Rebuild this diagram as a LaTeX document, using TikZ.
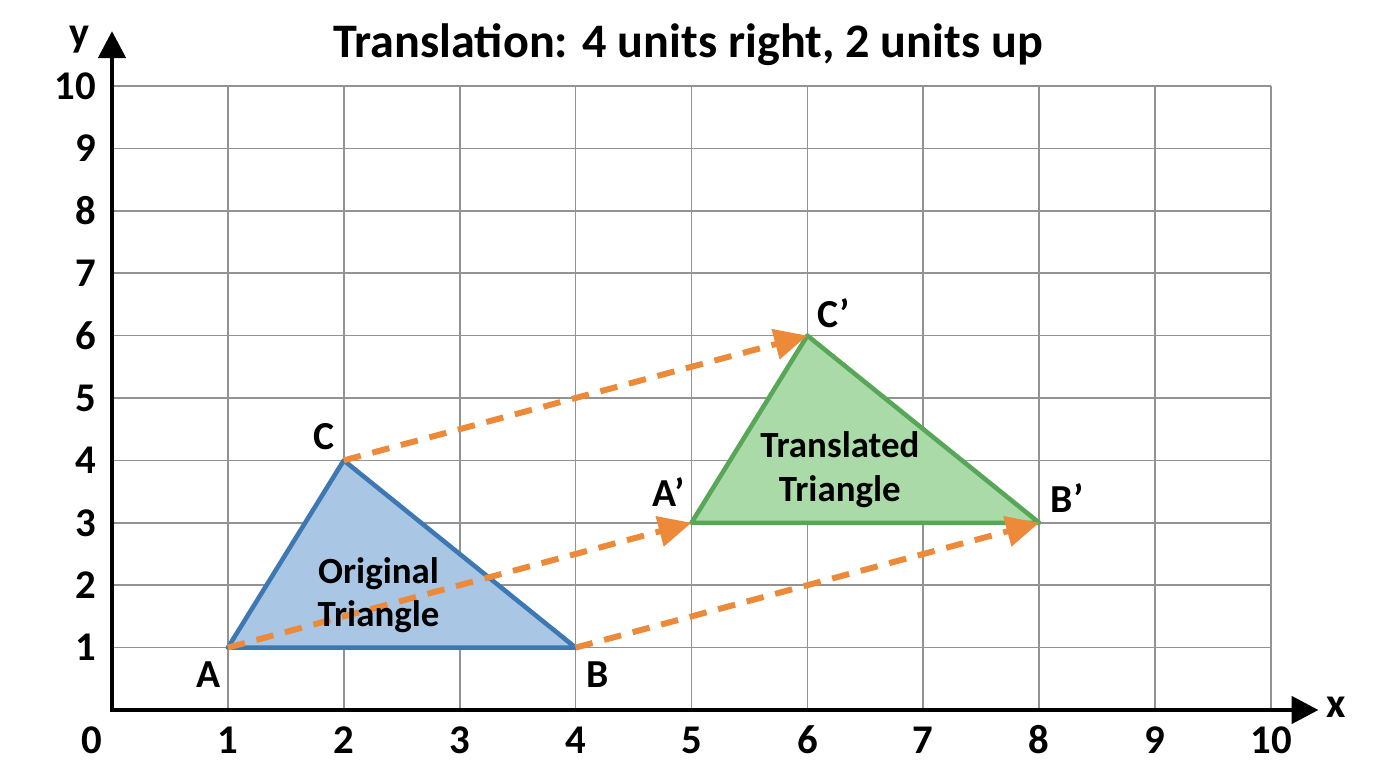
\documentclass[tikz,border=0pt]{standalone}
\usepackage{fontspec}
\setmainfont{Carlito}
\usepackage{tikz}
\usetikzlibrary{arrows.meta}
\usetikzlibrary{positioning}
\definecolor{origline}{HTML}{3E78B2}
\definecolor{origfill}{HTML}{A9C6E4}
\definecolor{newline}{HTML}{58A658}
\definecolor{newfill}{HTML}{AADAA8}
\definecolor{moveorange}{HTML}{EC8A3A}
\tikzset{gridline/.style={gray!85,line width=0.5pt}}
\tikzset{axis/.style={line width=1.4pt,line join=miter,{Triangle[length=0.27cm,width=0.27cm]}-{Triangle[length=0.27cm,width=0.27cm]}}}
\tikzset{tick/.style={font=\bfseries\fontsize{11.6}{13}\selectfont,inner sep=0pt}}
\tikzset{vert/.style={font=\bfseries\fontsize{11.3}{13}\selectfont,inner sep=0pt}}
\tikzset{inlabel/.style={font=\bfseries\fontsize{10.5}{12.4}\selectfont,align=center,inner sep=0pt}}
\tikzset{origtri/.style={draw=origline,fill=origfill,line width=1.3pt,line join=round}}
\tikzset{newtri/.style={draw=newline,fill=newfill,line width=1.3pt,line join=round}}
\tikzset{move/.style={draw=moveorange,line width=1.7pt,dash pattern=on 5pt off 3.4pt,-{Triangle[length=0.33cm,width=0.3cm,fill=moveorange]}}}

\begin{document}
\begin{tikzpicture}[x=1.159cm,y=0.624cm]
\useasboundingbox (-1.12cm,-0.58cm) rectangle (12.64cm,7.10cm);

\foreach \i in {1,...,10}
  {
 \draw[gridline] (\i,0) -- (\i,10);
 \draw[gridline] (0,\i) -- (10,\i);
 }

\coordinate (A) at (1,1);
\coordinate (B) at (4,1);
\coordinate (C) at (2,4);
\coordinate (Ap) at (5,3);
\coordinate (Bp) at (8,3);
\coordinate (Cp) at (6,6);

\draw[origtri] (A) -- (B) -- (C) -- cycle;
\draw[newtri] (Ap) -- (Bp) -- (Cp) -- cycle;

\foreach \p in {A, B, C}
  {
 \draw[move] (\p) -- (\p p);
 }

\coordinate (O) at (0,0);
\coordinate (xend) at (10.41,0);
\coordinate (yend) at (0,10.88);
\draw[axis] (xend) -- (O) -- (yend);
\node[font=\bfseries\fontsize{12}{14}\selectfont] (ylab) at (-0.28,10.74) {y};
\node[font=\bfseries\fontsize{12}{14}\selectfont] (xlab) at (10.56,0.05) {x};

\foreach \i in {1,...,10}
  {
 \node[tick, anchor=east] (yt\i) at (-0.13,\i) {\i};
 \node[tick] (xt\i) at (\i,-0.48) {\i};
 }
\node[tick] (xt0) at (-0.17,-0.48) {0};

\node[vert, below left=0.13cm and 0.07cm of A] (labA) {A};
\node[vert, below right=0.13cm and 0.1cm of B] (labB) {B};
\node[vert, above left=0.1cm and 0.09cm of C] (labC) {C};
\node[vert, above left=0.16cm and 0.06cm of Ap] (labAp) {A’};
\node[vert, above right=0.1cm and 0.11cm of Bp] (labBp) {B’};
\node[vert, above right=0.07cm and 0.09cm of Cp] (labCp) {C’};

\node[inlabel] (origtxt) at (2.3,1.84) {Original\\Triangle};
\node[inlabel] (newtxt) at (6.28,3.85) {Translated\\Triangle};

\node[font=\bfseries\fontsize{13.7}{16}\selectfont] (title) at (4.97,10.66) {Translation: 4 units right, 2 units up};

\end{tikzpicture}
\end{document}
